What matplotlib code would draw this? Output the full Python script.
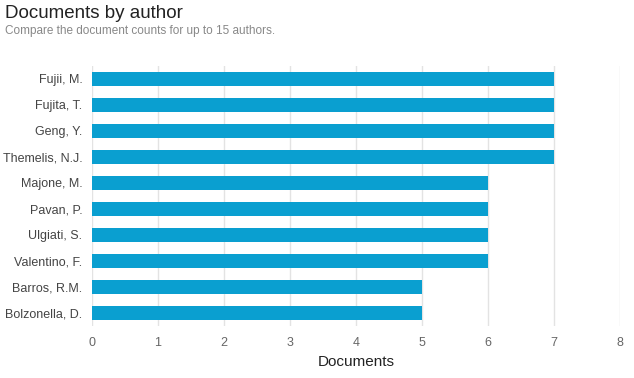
import matplotlib
matplotlib.use("Agg")
import matplotlib.pyplot as plt

authors = ["Fujii, M.", "Fujita, T.", "Geng, Y.", "Themelis, N.J.", "Majone, M.",
           "Pavan, P.", "Ulgiati, S.", "Valentino, F.", "Barros, R.M.", "Bolzonella, D."]
documents = [7, 7, 7, 7, 6, 6, 6, 6, 5, 5]
xticks = [0, 1, 2, 3, 4, 5, 6, 7, 8]

plt.rcParams['font.family'] = ['Liberation Sans', 'DejaVu Sans']

fig = plt.figure(figsize=(6.34, 3.78), dpi=100)
ax = fig.add_axes([92/634, 1-326/378, (620-92)/634, (326-66)/378])

y = list(range(len(authors)))
ax.barh(y, documents, height=0.54, color='#0a9fd0', zorder=3)
ax.set_ylim(len(authors)-0.5, -0.5)
ax.set_xlim(0, 8)
ax.set_yticks(y)
ax.set_yticklabels(authors, fontsize=9, color='#444444')
ax.set_xticks(xticks)
ax.set_xticklabels([str(t) for t in xticks], fontsize=9, color='#666666')
ax.tick_params(axis='y', length=0, pad=7)
ax.tick_params(axis='x', length=0, pad=8)
ax.grid(axis='x', color='#e3e3e3', linewidth=1, zorder=0)
for s in ax.spines.values():
    s.set_visible(False)
ax.set_xlabel("Documents", fontsize=11, color='#222222', labelpad=4)

fig.text(5/634, 1-13/378, "Documents by author", fontsize=13.5, color='#222222', va='center', ha='left')
fig.text(5/634, 1-31/378, "Compare the document counts for up to 15 authors.", fontsize=8.5, color='#888888', va='center', ha='left')

fig.savefig("out.png", dpi=100)
